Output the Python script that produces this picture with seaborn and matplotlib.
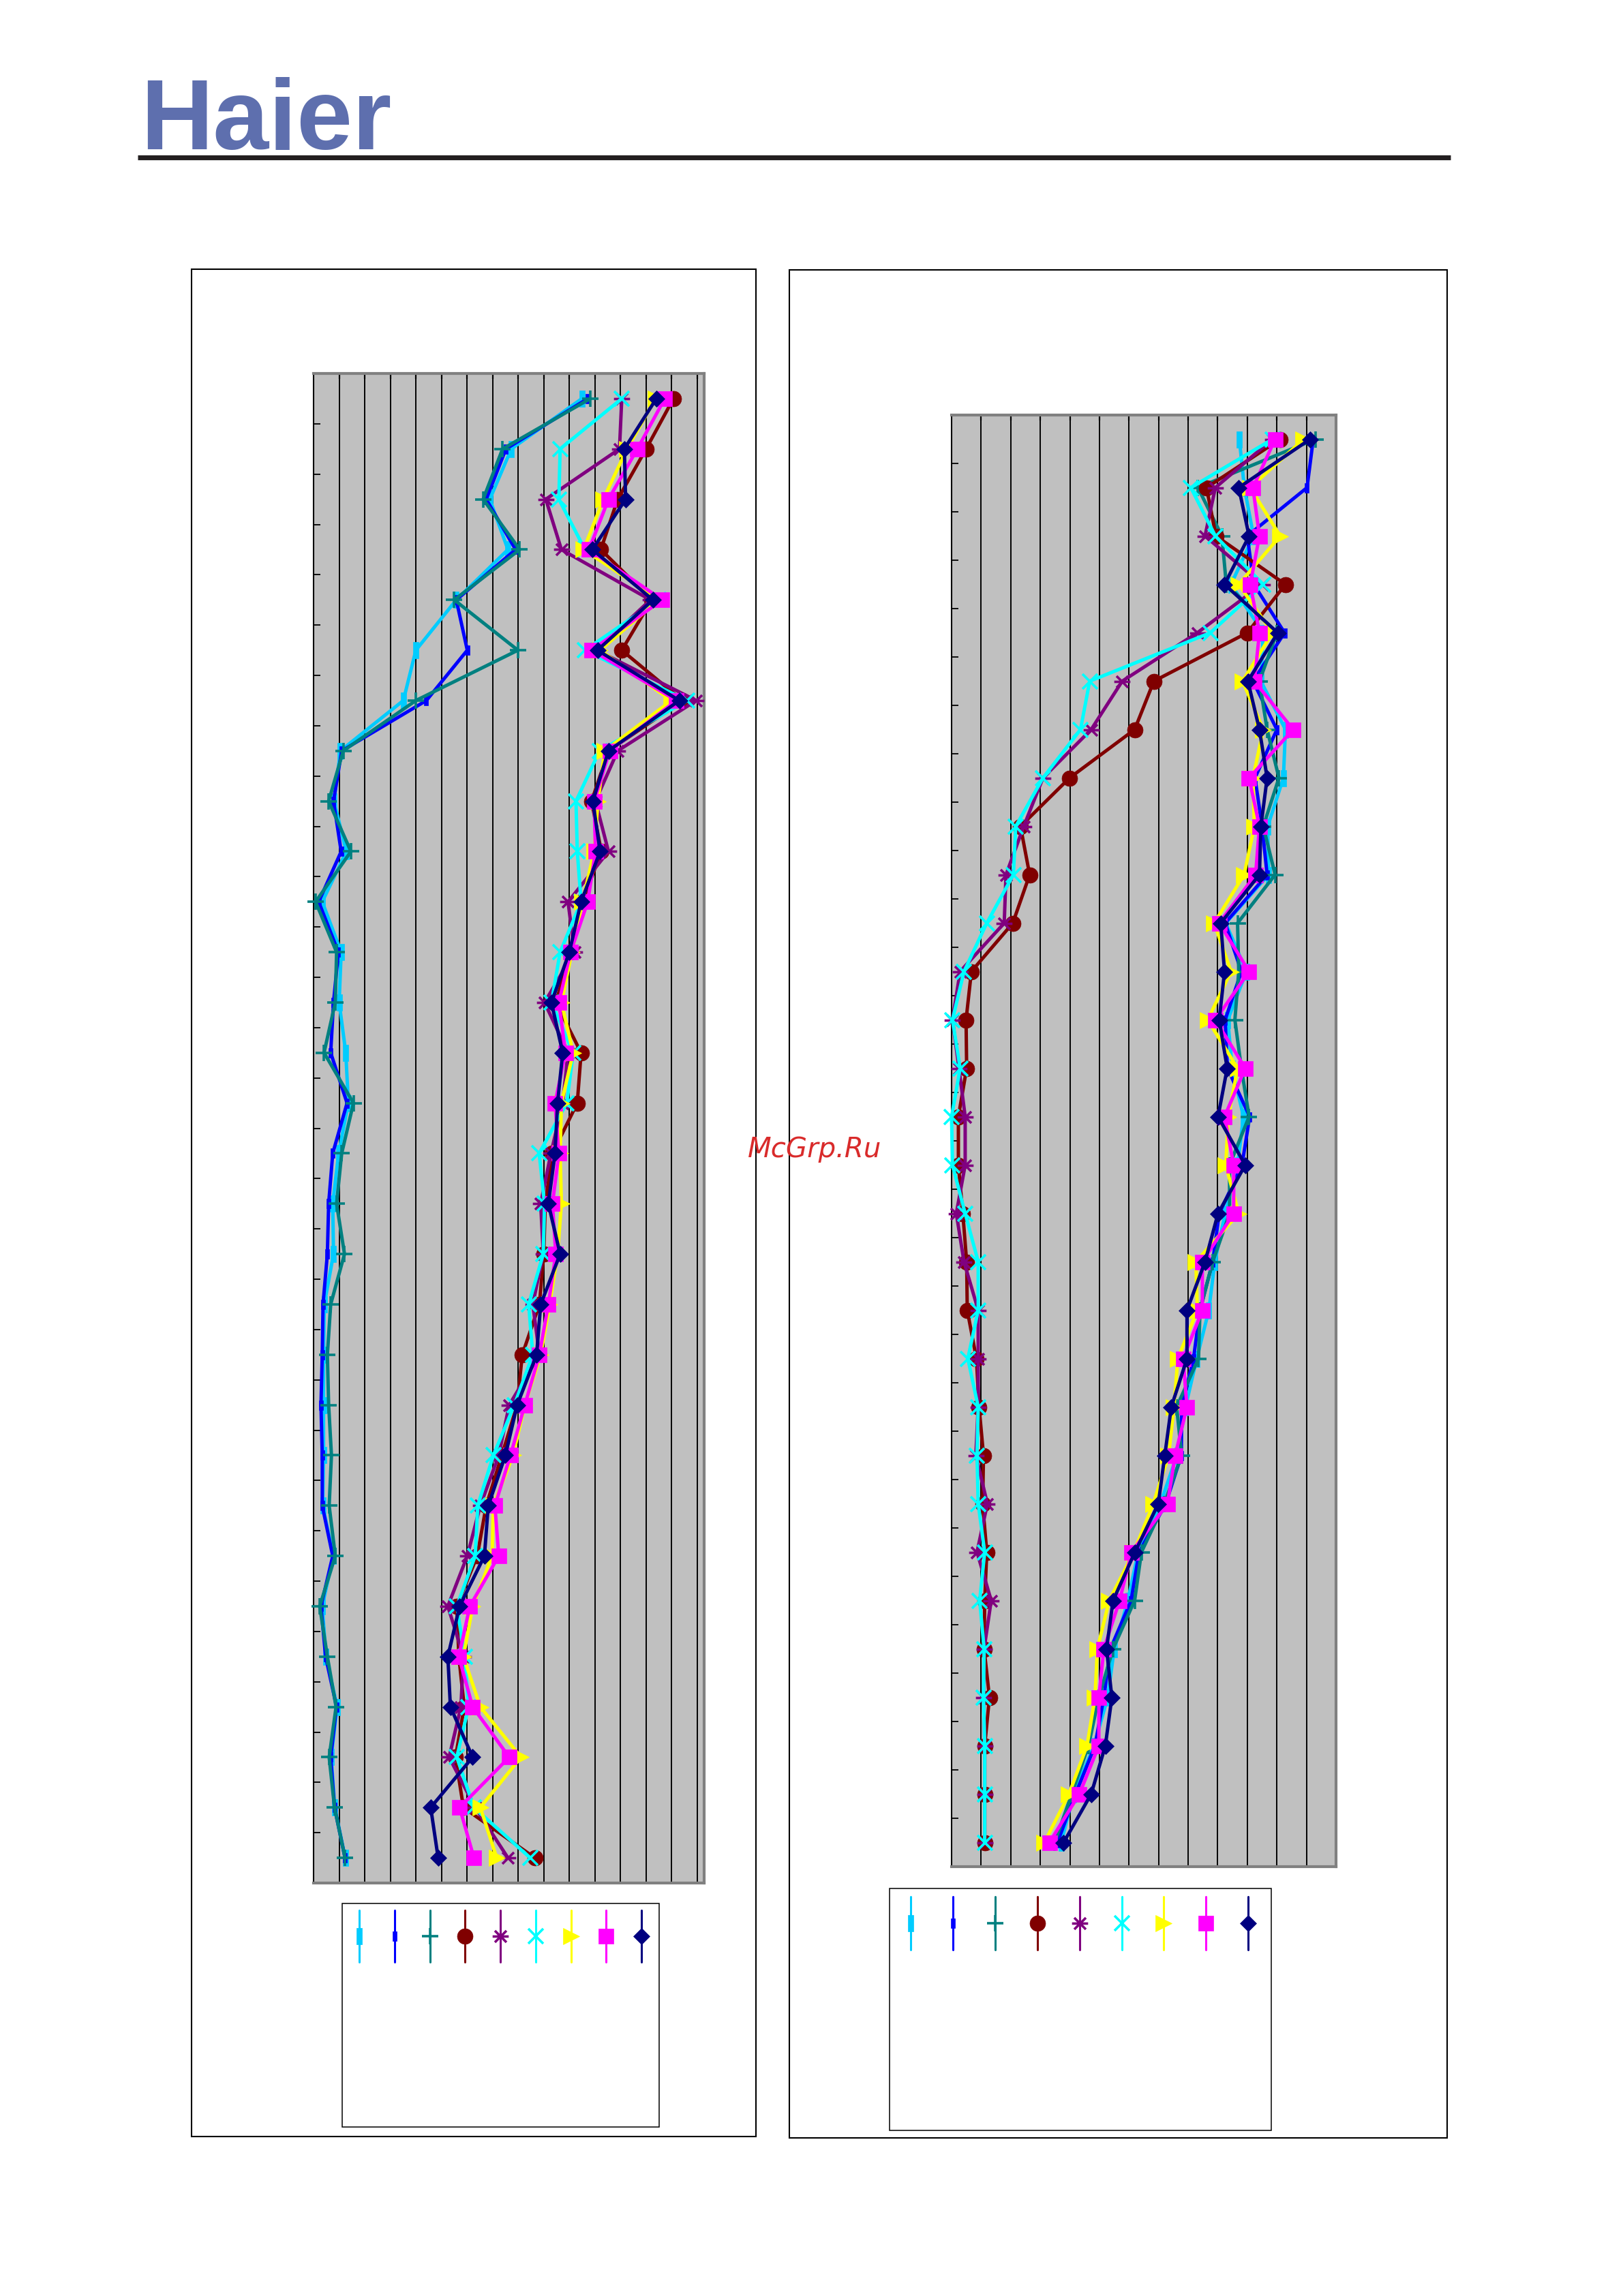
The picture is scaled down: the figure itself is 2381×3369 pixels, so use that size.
import matplotlib
matplotlib.use("Agg")
import matplotlib.pyplot as plt
import matplotlib.path as mpath
from matplotlib.patches import Rectangle
import seaborn as sns
import pandas as pd
import numpy as np

# 30 rows per panel, values in gridline units (no labels in the original)
points = np.arange(30)

left_deepskyblue = [10.49, 7.73, 6.89, 7.6, 5.58, 4.0, 3.51, 1.05, 0.8, 1.28, 0.34, 1.08, 1.0, 1.26, 1.36,
                    0.98, 0.75, 0.78, 0.42, 0.39, 0.39, 0.39, 0.36, 0.77, 0.34, 0.49, 0.92, 0.69, 0.83, 1.24]
left_blue = [10.72, 7.52, 6.75, 7.9, 5.58, 6.01, 4.41, 1.1, 0.78, 1.08, 0.2, 0.97, 0.78, 0.67, 1.31,
             0.75, 0.59, 0.54, 0.37, 0.34, 0.29, 0.34, 0.34, 0.75, 0.29, 0.47, 0.9, 0.67, 0.82, 1.23]
left_teal = [10.82, 7.39, 6.63, 8.06, 5.5, 7.99, 4.0, 1.16, 0.59, 1.46, 0.08, 0.9, 0.85, 0.41, 1.56,
             1.1, 0.9, 1.21, 0.67, 0.54, 0.59, 0.7, 0.61, 0.85, 0.24, 0.54, 0.88, 0.61, 0.82, 1.23]
left_maroon = [14.07, 13.0, 11.89, 11.23, 13.22, 12.05, 14.42, 11.53, 10.87, 11.25, 10.51, 10.05, 9.47, 10.46, 10.31,
               9.34, 9.06, 9.0, 8.83, 8.16, 7.96, 7.36, 6.75, 6.4, 5.6, 5.68, 5.89, 5.55, 5.86, 8.65]
left_purple = [12.05, 11.96, 9.08, 9.69, 13.17, 11.07, 14.96, 11.89, 11.02, 11.53, 9.95, 10.2, 9.03, 9.95, 9.74,
               9.28, 8.88, 8.98, 8.57, 8.83, 7.65, 7.24, 6.52, 6.01, 5.25, 5.86, 5.76, 5.3, 6.32, 7.6]
left_cyan = [12.05, 9.64, 9.59, 10.61, 13.48, 10.61, 14.6, 11.18, 10.26, 10.31, 10.46, 9.64, 9.3, 10.15, 9.9,
             8.82, 9.03, 8.98, 8.41, 8.57, 7.85, 7.03, 6.42, 6.32, 5.6, 5.91, 6.06, 5.6, 6.27, 8.47]
left_yellow = [13.37, 12.25, 11.33, 10.56, 13.5, 11.2, 13.99, 11.38, 11.12, 10.97, 10.51, 10.1, 9.69, 10.15, 9.69,
               9.64, 9.69, 9.54, 9.23, 8.88, 8.26, 7.8, 7.03, 6.98, 6.22, 5.86, 6.52, 8.11, 6.52, 7.16]
left_magenta = [13.73, 12.66, 11.53, 10.77, 13.63, 10.87, 14.19, 11.58, 10.97, 11.02, 10.72, 10.05, 9.59, 9.85, 9.44,
                9.59, 9.34, 9.47, 9.18, 8.83, 8.26, 7.7, 7.09, 7.24, 6.11, 5.68, 6.22, 7.65, 5.71, 6.27]
left_navy = [13.4, 12.15, 12.2, 10.9, 13.27, 11.1, 14.3, 11.53, 10.92, 11.2, 10.46, 10.0, 9.3, 9.74, 9.54,
             9.44, 9.18, 9.64, 8.88, 8.72, 7.96, 7.5, 6.83, 6.68, 5.71, 5.25, 5.35, 6.22, 4.58, 4.87]

right_deepskyblue = [9.73, 9.9, 10.21, 9.45, 10.54, 10.46, 11.29, 11.22, 10.69, 10.72, 9.27, 9.97, 9.34, 9.49, 9.87,
                     9.67, 9.25, 8.9, 8.7, 8.29, 7.91, 7.62, 7.06, 6.31, 5.96, 5.5, 5.28, 4.82, 4.12, 3.71]
right_blue = [12.23, 12.02, 10.0, 10.22, 11.26, 10.19, 11.0, 10.26, 10.5, 10.67, 9.25, 9.8, 9.25, 9.33, 10.08,
              9.82, 9.05, 8.83, 8.4, 8.18, 7.78, 7.77, 7.24, 6.34, 6.07, 5.37, 5.15, 4.85, 4.19, 3.58]
right_teal = [12.3, 8.33, 9.14, 9.29, 11.0, 10.41, 10.67, 11.07, 10.54, 10.94, 9.67, 9.71, 9.58, 9.8, 10.06,
              9.4, 9.4, 8.83, 8.4, 8.35, 7.61, 7.78, 7.19, 6.42, 6.19, 5.46, 4.98, 4.63, 4.06, 3.49]
right_maroon = [11.11, 8.62, 8.94, 11.29, 10.0, 6.84, 6.19, 3.99, 2.33, 2.64, 2.07, 0.67, 0.49, 0.51, 0.23,
                0.23, 0.38, 0.51, 0.53, 0.84, 0.93, 1.08, 1.05, 1.19, 1.12, 1.1, 1.28, 1.12, 1.12, 1.12]
right_purple = [10.85, 8.92, 8.57, 10.5, 8.31, 5.77, 4.72, 3.09, 2.44, 1.84, 1.78, 0.29, 0.03, 0.25, 0.46,
                0.46, 0.16, 0.42, 0.9, 0.9, 0.9, 0.82, 1.21, 0.86, 1.34, 1.1, 1.08, 1.12, 1.12, 1.12]
right_cyan = [10.85, 8.09, 8.92, 10.54, 8.75, 4.67, 4.36, 3.09, 2.17, 2.09, 1.19, 0.42, 0.03, 0.29, 0.0,
              0.03, 0.46, 0.9, 0.9, 0.55, 0.9, 0.86, 0.9, 1.12, 0.95, 1.1, 1.08, 1.12, 1.12, 1.12]
right_yellow = [11.9, 10.1, 11.11, 9.71, 10.85, 9.84, 10.54, 10.19, 10.24, 9.89, 8.88, 9.45, 8.66, 9.67, 9.36,
                9.27, 9.71, 8.26, 8.31, 7.65, 7.52, 7.34, 6.82, 6.16, 5.33, 4.93, 4.85, 4.58, 3.97, 3.14]
right_magenta = [10.94, 10.19, 10.41, 10.1, 10.41, 10.24, 11.55, 10.06, 10.41, 10.28, 9.05, 10.06, 8.92, 9.93, 9.23,
                 9.54, 9.54, 8.48, 8.48, 7.83, 7.96, 7.56, 7.3, 6.09, 5.68, 5.15, 4.98, 4.98, 4.32, 3.31]
right_navy = [12.12, 9.71, 10.06, 9.23, 11.03, 10.02, 10.41, 10.67, 10.46, 10.41, 9.1, 9.23, 9.05, 9.32, 9.01,
              9.93, 9.01, 8.57, 7.96, 7.96, 7.43, 7.21, 6.99, 6.2, 5.46, 5.24, 5.42, 5.2, 4.72, 3.79]

colors = ["#00CCFF", "#0000FF", "#008080", "#800000", "#800080", "#00FFFF", "#FFFF00", "#FF00FF", "#000080"]

# excel style markers, turned on their side like the chart
long_dash = [(-0.15, -0.5), (0.15, -0.5), (0.15, 0.5), (-0.15, 0.5), (-0.15, -0.5)]
short_dash = [(-0.25, -0.5), (0.25, -0.5), (0.25, 0.5), (-0.25, 0.5), (-0.25, -0.5)]
star = mpath.Path([(-1, 0), (1, 0), (-0.72, -0.72), (0.72, 0.72), (-0.72, 0.72), (0.72, -0.72)],
                  [1, 2, 1, 2, 1, 2])
marker_kw = [
    dict(marker=long_dash, ms=17, mew=0.5),
    dict(marker=short_dash, ms=10, mew=0.5),
    dict(marker="+", ms=17, mew=2.6),
    dict(marker="o", ms=16.5, mew=0.5),
    dict(marker=star, ms=17, mew=2.6),
    dict(marker="x", ms=16, mew=2.6),
    dict(marker=">", ms=17, mew=0.5),
    dict(marker="s", ms=16, mew=0.5),
    dict(marker="D", ms=12, mew=0.5),
]

left_series = [left_deepskyblue, left_blue, left_teal, left_maroon, left_purple,
               left_cyan, left_yellow, left_magenta, left_navy]
right_series = [right_deepskyblue, right_blue, right_teal, right_maroon, right_purple,
                right_cyan, right_yellow, right_magenta, right_navy]

W, H = 2381, 3369
fig = plt.figure(figsize=(W / 100, H / 100), dpi=100)

# page layer in pixel coordinates for frames, logo, legends
page = fig.add_axes([0, 0, 1, 1], zorder=0)
page.set_xlim(0, W)
page.set_ylim(H, 0)
page.axis("off")

page.text(206, 219, "Haier", fontsize=106, family="Liberation Sans", fontweight="bold",
          color="#5E6FAE", va="baseline", ha="left")
page.plot([202, 2128], [230.5, 230.5], color="#231F20", lw=5.2, solid_capstyle="butt")

page.add_patch(Rectangle((281, 395), 828, 2740, fill=False, ec="black", lw=1.5))
page.add_patch(Rectangle((1158, 396), 965, 2741, fill=False, ec="black", lw=1.5))
page.text(1195, 1686, "McGrp.Ru", fontsize=29, style="italic", family="DejaVu Sans",
          color="#D92B2B", ha="center", va="center")


def draw_panel(rect, series, xmax):
    ax = fig.add_axes(rect, zorder=1)
    ax.set_facecolor("#C0C0C0")
    for i, vals in enumerate(series):
        df = pd.DataFrame({"value": vals, "point": points})
        sns.lineplot(data=df, x="value", y="point", orient="y", estimator=None,
                     color=colors[i], linewidth=3.6, mec=colors[i], mfc=colors[i],
                     clip_on=False, legend=False, ax=ax, zorder=3 + i, **marker_kw[i])
    ax.set_xlim(0, xmax)
    ax.set_ylim(29.5, -0.5)
    ax.set_xticks(np.arange(1, int(xmax) + 1))
    ax.set_yticks(np.arange(0.5, 29, 1))
    ax.grid(axis="x", color="black", lw=1.4)
    ax.grid(axis="y", visible=False)
    ax.set_axisbelow(True)
    ax.tick_params(axis="x", bottom=False, top=True, direction="in", length=6, width=1.6,
                   labelbottom=False, labeltop=False)
    ax.tick_params(axis="y", left=True, direction="in", length=7, width=1.3, color="black",
                   labelleft=False)
    ax.set_xlabel("")
    ax.set_ylabel("")
    for side in ["right", "bottom", "top"]:
        ax.spines[side].set_color("#808080")
        ax.spines[side].set_linewidth(3)
    ax.spines["left"].set_color("black")
    ax.spines["left"].set_linewidth(1.5)
    return ax


draw_panel([460 / W, 1 - 2763 / H, 573 / W, 2215 / H], left_series, 15.27)
draw_panel([1396 / W, 1 - 2739 / H, 564 / W, 2130 / H], right_series, 13)


def draw_legend(box, x0, step, y_top, y_bot, y_mark):
    page.add_patch(Rectangle(box[:2], box[2], box[3], fill=True, fc="white", ec="black", lw=1.1))
    for i in range(9):
        x = x0 + i * step
        page.plot([x, x], [y_top, y_bot], color=colors[i], lw=2.2, solid_capstyle="round")
        page.plot([x], [y_mark], color=colors[i], mec=colors[i], mfc=colors[i], **marker_kw[i])


draw_legend((502, 2793, 465, 328), 527, 51.75, 2803, 2879, 2841)
draw_legend((1305, 2771, 560, 355), 1336, 61.9, 2783, 2861, 2822)

fig.savefig("out.png", dpi=100)
